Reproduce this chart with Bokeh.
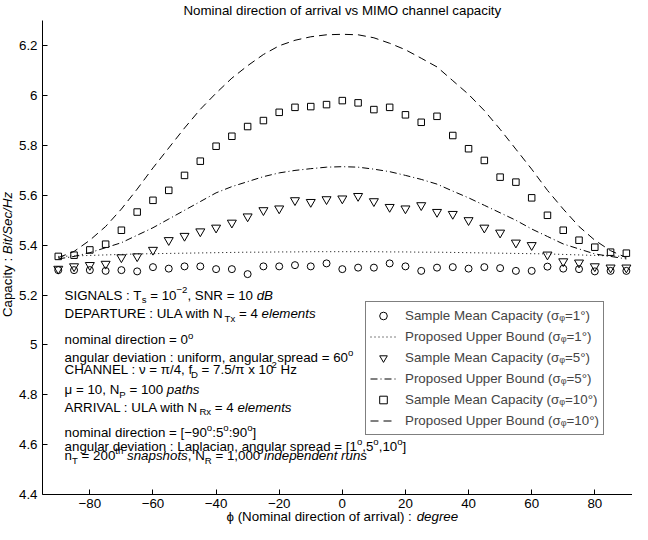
from bokeh.plotting import figure
from bokeh.models import Label, Legend, LegendItem, FixedTicker, Range1d
from bokeh.embed import file_html
from bokeh.resources import INLINE

# ---------------- data ----------------
phi = [-90, -85, -80, -75, -70, -65, -60, -55, -50, -45, -40, -35, -30, -25, -20, -15, -10, -5,
       0, 5, 10, 15, 20, 25, 30, 35, 40, 45, 50, 55, 60, 65, 70, 75, 80, 85, 90]

cap_1 = [5.300, 5.300, 5.300, 5.297, 5.300, 5.295, 5.312, 5.306, 5.315, 5.315, 5.304, 5.304,
         5.284, 5.315, 5.315, 5.320, 5.315, 5.327, 5.304, 5.310, 5.310, 5.327, 5.315, 5.297,
         5.310, 5.312, 5.306, 5.312, 5.308, 5.297, 5.297, 5.314, 5.306, 5.304, 5.295, 5.297, 5.297]

bound_1 = [5.355, 5.357, 5.359, 5.361, 5.363, 5.365, 5.366, 5.367, 5.368, 5.369, 5.370, 5.371,
           5.372, 5.372, 5.373, 5.373, 5.374, 5.374, 5.374, 5.374, 5.374, 5.373, 5.373, 5.372,
           5.372, 5.371, 5.370, 5.369, 5.368, 5.367, 5.366, 5.365, 5.363, 5.361, 5.359, 5.357, 5.355]

cap_5 = [5.305, 5.315, 5.320, 5.325, 5.351, 5.355, 5.381, 5.420, 5.437, 5.455, 5.470, 5.490,
         5.515, 5.540, 5.547, 5.580, 5.573, 5.584, 5.587, 5.597, 5.576, 5.553, 5.547, 5.560,
         5.533, 5.525, 5.500, 5.470, 5.450, 5.410, 5.400, 5.362, 5.335, 5.330, 5.315, 5.310, 5.310]

bound_5 = [5.345, 5.355, 5.370, 5.390, 5.410, 5.440, 5.470, 5.505, 5.540, 5.575, 5.610, 5.635,
           5.655, 5.675, 5.690, 5.700, 5.707, 5.713, 5.715, 5.713, 5.705, 5.695, 5.680, 5.664,
           5.645, 5.617, 5.590, 5.560, 5.530, 5.500, 5.465, 5.435, 5.405, 5.385, 5.365, 5.355, 5.345]

cap_10 = [5.355, 5.360, 5.381, 5.404, 5.460, 5.533, 5.580, 5.620, 5.680, 5.737, 5.797, 5.837,
          5.876, 5.900, 5.933, 5.953, 5.956, 5.964, 5.980, 5.971, 5.944, 5.953, 5.923, 5.893,
          5.917, 5.840, 5.787, 5.740, 5.673, 5.653, 5.590, 5.520, 5.460, 5.420, 5.392, 5.372, 5.368]

bound_10 = [5.350, 5.375, 5.420, 5.475, 5.545, 5.625, 5.710, 5.790, 5.870, 5.945, 6.010, 6.070,
            6.120, 6.165, 6.200, 6.222, 6.236, 6.244, 6.246, 6.244, 6.232, 6.210, 6.184, 6.150,
            6.115, 6.060, 6.005, 5.940, 5.865, 5.785, 5.705, 5.620, 5.545, 5.475, 5.420, 5.378, 5.350]

x_ticks = [-80, -60, -40, -20, 0, 20, 40, 60, 80]
x_tick_labels = ["\u221280", "\u221260", "\u221240", "\u221220", "0", "20", "40", "60", "80"]
y_ticks = [4.4, 4.6, 4.8, 5.0, 5.2, 5.4, 5.6, 5.8, 6.0, 6.2]
y_tick_labels = ["4.4", "4.6", "4.8", "5", "5.2", "5.4", "5.6", "5.8", "6", "6.2"]

legend_labels = [
    "Sample Mean Capacity (\u03c3\u1d69=1\u00b0)",
    "Proposed Upper Bound (\u03c3\u1d69=1\u00b0)",
    "Sample Mean Capacity (\u03c3\u1d69=5\u00b0)",
    "Proposed Upper Bound (\u03c3\u1d69=5\u00b0)",
    "Sample Mean Capacity (\u03c3\u1d69=10\u00b0)",
    "Proposed Upper Bound (\u03c3\u1d69=10\u00b0)",
]

title_text = "Nominal direction of arrival vs MIMO channel capacity"
xlabel_segs = [("\u03d5 (Nominal direction of arrival) : ", "n"), ("degree", "it")]
ylabel_segs = [("Capacity : ", "n"), ("Bit/Sec/Hz", "it")]

note_lines = [
    [("SIGNALS : T", "n"), ("s", "sub"), (" = 10", "n"), ("\u22122", "sup"), (", SNR = 10 ", "n"), ("dB", "it")],
    [("DEPARTURE : ULA with N", "n"), ("Tx", "sub"), (" = 4 ", "n"), ("elements", "it")],
    [("nominal direction = 0", "n"), ("o", "sup")],
    [("angular deviation : uniform, angular spread = 60", "n"), ("o", "sup")],
    [("CHANNEL : \u03bd = \u03c0/4, f", "n"), ("D", "sub"), (" = 7.5/\u03c0 x 10", "n"), ("2", "sup"), (" Hz", "n")],
    [("\u03bc = 10, N", "n"), ("P", "sub"), (" = 100 ", "n"), ("paths", "it")],
    [("ARRIVAL : ULA with N", "n"), ("Rx", "sub"), (" = 4 ", "n"), ("elements", "it")],
    [("nominal direction = [\u221290", "n"), ("o", "sup"), (":5", "n"), ("o", "sup"), (":90", "n"), ("o", "sup"), ("]", "n")],
    [("angular deviation : Laplacian, angular spread = [1", "n"), ("o", "sup"), (",5", "n"), ("o", "sup"),
     (",10", "n"), ("o", "sup"), ("]", "n")],
    [("n", "n"), ("T", "sub"), (" = 200", "n"), ("th", "sup"), (" ", "n"), ("snapshots", "it"), (", N", "n"),
     ("R", "sub"), (" = 1,000 ", "n"), ("independent runs", "it")],
]
note_x = -88.0
note_y = [5.2, 5.125, 5.02, 4.95, 4.9, 4.82, 4.75, 4.65, 4.592, 4.556]

# ---------------- layout ----------------
FONT = "Liberation Sans"
FS = 13.33
W, H = 632, 524
ML, MT, MB = 42, 20, 30          # space for the axes around the data box (px)
DW, DH = W - ML, H - MT - MB     # data box size
X0, PXX = -95.0, 3.156
X1 = X0 + DW / PXX
Y0, PXY = 4.4, 249.3
Y1 = Y0 + DH / PXY

p = figure(width=W, height=H, output_backend="svg", toolbar_location=None, title=None,
           x_range=Range1d(X0 - ML / PXX, X1), y_range=Range1d(Y0 - MB / PXY, Y1 + MT / PXY),
           min_border_left=0, min_border_right=0, min_border_top=0, min_border_bottom=0)
p.outline_line_color = None
p.background_fill_color = "white"
p.border_fill_color = "white"
p.xgrid.visible = False
p.ygrid.visible = False

for ax in (p.xaxis[0], p.yaxis[0]):
    ax.major_tick_in = 5
    ax.major_tick_out = 0
    ax.minor_tick_line_color = None
    ax.axis_line_color = "black"
    ax.major_tick_line_color = "black"
    ax.major_label_text_font = FONT
    ax.major_label_text_font_size = "%.2fpx" % FS
    ax.major_label_text_color = "black"
p.xaxis.fixed_location = Y0
p.xaxis.bounds = (X0, X1)
p.xaxis.ticker = FixedTicker(ticks=x_ticks)
p.xaxis.major_label_overrides = dict(zip(x_ticks, x_tick_labels))
p.xaxis.major_label_standoff = 4
p.yaxis.fixed_location = X0
p.yaxis.bounds = (Y0, Y1)
p.yaxis.ticker = FixedTicker(ticks=y_ticks)
p.yaxis.major_label_overrides = dict(zip(y_ticks, y_tick_labels))
p.yaxis.major_label_standoff = 5

# ---------------- data marks ----------------
r1 = p.scatter(phi, cap_1, marker="circle", size=7, fill_color=None, line_color="black", line_width=1)
l1 = p.line(phi, bound_1, line_color="black", line_width=1, line_dash="1 3")
r5 = p.scatter(phi, cap_5, marker="inverted_triangle", size=9, fill_color=None, line_color="black", line_width=1)
l5 = p.line(phi, bound_5, line_color="black", line_width=1, line_dash="7 3 1 3")
r10 = p.scatter(phi, cap_10, marker="square", size=6.5, fill_color=None, line_color="black", line_width=1)
l10 = p.line(phi, bound_10, line_color="black", line_width=1, line_dash="8 5")

legend = Legend(items=[LegendItem(label=lab, renderers=[r]) for lab, r in
                       zip(legend_labels, [r1, l1, r5, l5, r10, l10])],
                location=(365, 89))
legend.border_line_color = "black"
legend.border_line_width = 1
legend.background_fill_color = "white"
legend.background_fill_alpha = 1.0
legend.label_text_font = FONT
legend.label_text_font_size = "%.2fpx" % FS
legend.glyph_width = 26
legend.glyph_height = 19
legend.label_height = 19
legend.label_standoff = 9
legend.spacing = 2
legend.padding = 4
legend.margin = 0
p.add_layout(legend)

# ---------------- rich text helpers ----------------
CW = {' ': 278, '(': 333, ')': 333, ',': 278, '-': 333, '.': 278, '/': 278, ':': 278, '=': 584,
      '[': 278, ']': 278, '\u2212': 584, '\u00b0': 400,
      'A': 667, 'B': 667, 'C': 722, 'D': 722, 'E': 667, 'F': 611, 'G': 778, 'H': 722, 'I': 278,
      'J': 500, 'K': 667, 'L': 556, 'M': 833, 'N': 722, 'O': 778, 'P': 667, 'Q': 778, 'R': 722,
      'S': 667, 'T': 611, 'U': 722, 'V': 667, 'W': 944, 'X': 667, 'Y': 667, 'Z': 611,
      'a': 556, 'b': 556, 'c': 500, 'd': 556, 'e': 556, 'f': 278, 'g': 556, 'h': 556, 'i': 222,
      'j': 222, 'k': 500, 'l': 222, 'm': 833, 'n': 556, 'o': 556, 'p': 556, 'q': 556, 'r': 333,
      's': 500, 't': 278, 'u': 556, 'v': 500, 'w': 722, 'x': 500, 'y': 500, 'z': 500,
      '\u03bd': 500, '\u03c0': 556, '\u03bc': 576, '\u03d5': 650, '\u03c3': 600}


def tw(s, size):
    return sum(CW.get(c, 556) for c in s) * size / 1000.0


def seg_style(kind, size):
    if kind == "sub":
        return size * 0.72, -4.5 * size / 13.0, "normal"
    if kind == "sup":
        return size * 0.72, 4.8 * size / 13.0, "normal"
    if kind == "it":
        return size, 0.0, "italic"
    return size, 0.0, "normal"


def total_width(segs, size):
    return sum(tw(t, seg_style(k, size)[0]) for t, k in segs)


def rich(x0, y0, segs, size=FS, vertical=False):
    off = 0.0
    for text, kind in segs:
        fs, dy, style = seg_style(kind, size)
        lead = len(text) - len(text.lstrip(" "))
        body = text.strip(" ")
        start = off + tw(" " * lead, fs)
        if body:
            if vertical:
                x = x0 - dy / PXX
                y = y0 + start / PXY
                ang = 1.5707963267948966
            else:
                x = x0 + start / PXX
                y = y0 + dy / PXY
                ang = 0.0
            p.add_layout(Label(x=x, y=y, text=body, text_font=FONT, text_font_size="%.2fpx" % fs,
                               text_font_style=style, text_color="black", text_align="left",
                               text_baseline="middle", angle=ang))
        off += tw(text, fs)


for segs, yy in zip(note_lines, note_y):
    rich(note_x, yy, segs)

# x label, centred under x = 0
xl_w = total_width(xlabel_segs, FS)
rich(0 - xl_w / 2 / PXX, Y0 - 22.0 / PXY, xlabel_segs)

# y label, rotated
yl_w = total_width(ylabel_segs, FS)
yc = Y0 + (DH / 2 + 3) / PXY
rich(X0 - 35.0 / PXX, yc - yl_w / 2 / PXY, ylabel_segs, vertical=True)

# title
p.add_layout(Label(x=0, y=Y1 + 10.0 / PXY, text=title_text, text_font=FONT, text_font_size="%.2fpx" % FS,
                   text_color="black", text_align="center", text_baseline="middle"))

open("out.html", "w").write(file_html(p, INLINE))
